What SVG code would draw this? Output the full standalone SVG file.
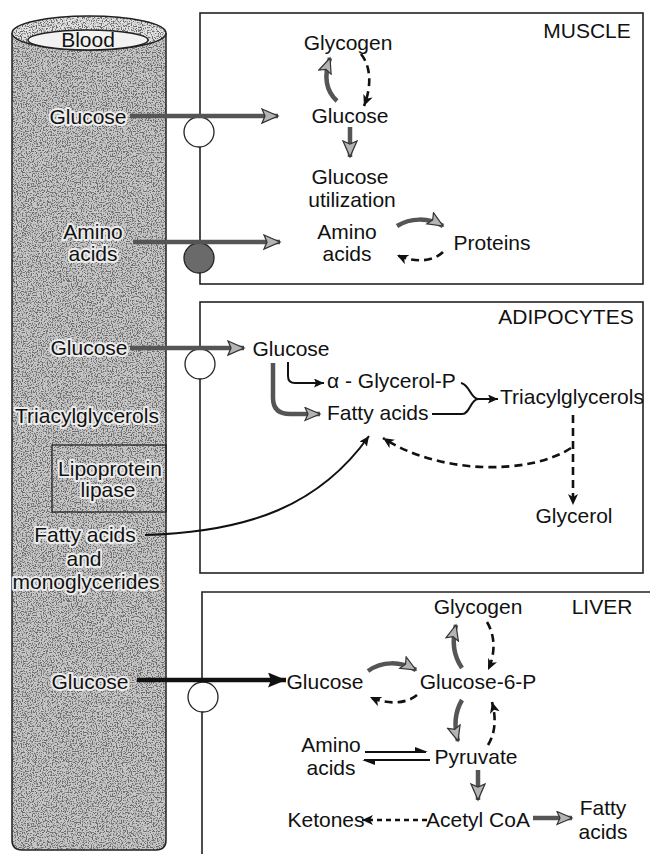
<svg xmlns="http://www.w3.org/2000/svg" width="650" height="854" viewBox="0 0 650 854">
<defs>
<style>
text{font-family:"Liberation Sans",Arial,sans-serif;font-size:21px;fill:#111}
.c{text-anchor:middle}
.h{stroke:#ececec;stroke-width:4;paint-order:stroke;stroke-linejoin:round}
.box{fill:#fff;stroke:#222;stroke-width:1.6}
.mem{fill:#fff;stroke:#222;stroke-width:1.3}
.g{fill:none;stroke:#555;stroke-width:4.5}
.d{fill:none;stroke:#111;stroke-width:2.6;stroke-dasharray:8 5}
.t{fill:none;stroke:#111;stroke-width:2}
.bk{fill:none;stroke:#111;stroke-width:4.5}
</style>
<filter id="spk" x="0" y="0" width="1" height="1">
<feTurbulence type="fractalNoise" baseFrequency="0.8" numOctaves="2" seed="7" result="n"/>
<feColorMatrix in="n" type="matrix" values="0 0 0 0 0.15  0 0 0 0 0.15  0 0 0 0 0.15  0 0 0 -6 3.2" result="d"/>
<feComposite in="d" in2="SourceGraphic" operator="in" result="dd"/>
<feMerge><feMergeNode in="SourceGraphic"/><feMergeNode in="dd"/></feMerge>
</filter>
<marker id="mg" markerUnits="userSpaceOnUse" markerWidth="20" markerHeight="18" refX="17" refY="8" orient="auto"><path d="M1,1 L17,8 L1,15 L4,8 Z" fill="#b4b4b4" stroke="#333" stroke-width="1.3"/></marker>
<marker id="mgs" markerUnits="userSpaceOnUse" markerWidth="18" markerHeight="16" refX="16" refY="7.5" orient="auto"><path d="M1,1 L16,7.5 L1,14 L4,7.5 Z" fill="#b4b4b4" stroke="#333" stroke-width="1.2"/></marker>
<marker id="mb" markerUnits="userSpaceOnUse" markerWidth="12" markerHeight="11" refX="11" refY="5" orient="auto"><path d="M0,0 L11,5 L0,10 L3,5 Z" fill="#111"/></marker>
<marker id="mt" markerUnits="userSpaceOnUse" markerWidth="11" markerHeight="10" refX="10" refY="4.5" orient="auto"><path d="M0,0 L10,4.5 L0,9 L2,4.5 Z" fill="#111"/></marker>
<marker id="mbb" markerUnits="userSpaceOnUse" markerWidth="20" markerHeight="16" refX="18" refY="7.5" orient="auto"><path d="M0,0 L18,7.5 L0,15 L3,7.5 Z" fill="#111"/></marker>
</defs>
<rect width="650" height="854" fill="#fff"/>

<g id="blood">
<path d="M12,33 V840 Q12,850 22,850 H156 Q166,850 166,840 V33 Z" fill="#c8c8c8" filter="url(#spk)"/>
<path d="M12,33 V840 Q12,850 22,850 H156 Q166,850 166,840 V33" fill="none" stroke="#222" stroke-width="1.5"/>
<ellipse cx="89" cy="33" rx="77" ry="17" fill="#e2e2e2" filter="url(#spk)"/>
<ellipse cx="89" cy="33" rx="77" ry="17" fill="none" stroke="#222" stroke-width="1.5"/>
<ellipse cx="88" cy="40" rx="60" ry="10" fill="#f2f2f2" stroke="#222" stroke-width="1.5"/>
<text class="c" x="88" y="47">Blood</text>
<text class="c h" x="88" y="124">Glucose</text>
<text class="c h" x="93" y="239">Amino</text>
<text class="c h" x="93" y="261">acids</text>
<text class="c h" x="89" y="355">Glucose</text>
<text class="c h" x="87" y="423">Triacylglycerols</text>
<rect x="52" y="445" width="114" height="67" fill="none" stroke="#222" stroke-width="1.3"/>
<text class="c h" x="110" y="476">Lipoprotein</text>
<text class="c h" x="108" y="497">lipase</text>
<text class="c h" x="85" y="542">Fatty acids</text>
<text class="c h" x="84" y="566">and</text>
<text class="c h" x="86" y="589">monoglycerides</text>
<text class="c h" x="90" y="689">Glucose</text>
</g>

<g id="muscle">
<rect class="box" x="200" y="13" width="443" height="271"/>
<circle class="mem" cx="199" cy="132" r="15"/>
<circle cx="199" cy="258" r="15" fill="#6a6a6a" stroke="#222" stroke-width="1.3"/>
<text class="c" x="587" y="38">MUSCLE</text>
<text class="c" x="348" y="50">Glycogen</text>
<text class="c" x="350" y="123">Glucose</text>
<text class="c" x="350" y="184">Glucose</text>
<text class="c" x="352" y="207">utilization</text>
<text class="c" x="347" y="239">Amino</text>
<text class="c" x="347" y="261">acids</text>
<text class="c" x="492" y="250">Proteins</text>
</g>

<g id="adipocytes">
<rect class="box" x="200" y="302" width="443" height="271"/>
<circle class="mem" cx="200" cy="364" r="15"/>
<text class="c" x="566" y="324">ADIPOCYTES</text>
<text class="c" x="291" y="356">Glucose</text>
<text x="327" y="388">α - Glycerol-P</text>
<text x="327" y="420">Fatty acids</text>
<text x="500" y="404">Triacylglycerols</text>
<text class="c" x="574" y="523">Glycerol</text>
</g>

<g id="liver">
<path d="M650,592 H202 V854" fill="none" stroke="#222" stroke-width="1.6"/>
<circle class="mem" cx="203" cy="697" r="15"/>
<text class="c" x="602" y="614">LIVER</text>
<text class="c" x="478" y="614">Glycogen</text>
<text class="c" x="325" y="689">Glucose</text>
<text class="c" x="478" y="689">Glucose-6-P</text>
<text class="c" x="331" y="752">Amino</text>
<text class="c" x="331" y="775">acids</text>
<text class="c" x="476" y="764">Pyruvate</text>
<text class="c" x="326" y="827">Ketones</text>
<text class="c" x="478" y="827">Acetyl CoA</text>
<text class="c" x="603" y="815">Fatty</text>
<text class="c" x="603" y="839">acids</text>
</g>

<g id="connectors">
<path class="g" d="M130,116 H278" marker-end="url(#mg)"/>
<path class="g" d="M133,242 H280" marker-end="url(#mg)"/>
<path class="g" d="M337,101 C325,90 324,75 330,58" marker-end="url(#mgs)"/>
<path class="d" d="M361,54 C372,68 371,88 364,106" marker-end="url(#mb)"/>
<path class="g" d="M350,127 V157" marker-end="url(#mg)"/>
<path class="g" d="M397,226 C410,218 428,217 443,226" marker-end="url(#mgs)"/>
<path class="d" d="M443,252 C432,263 412,262 397,255" marker-end="url(#mb)"/>

<path class="g" d="M130,348 H244" marker-end="url(#mg)"/>
<path class="t" d="M288,362 V376 Q288,383 295,383 H324" marker-end="url(#mt)"/>
<path class="g" d="M273,363 V398 Q273,414 290,414 H320" marker-end="url(#mgs)"/>
<path class="t" d="M461,383 C470,385 470,398 478,399"/>
<path class="t" d="M432,414 H462 C470,414 470,400 478,399 H498" marker-end="url(#mt)"/>
<path class="d" d="M573,415 V505" marker-end="url(#mb)"/>
<path class="d" d="M571,448 C530,475 440,475 383,438" marker-end="url(#mb)"/>
<path class="t" d="M145,535 C250,532 320,505 369,436" stroke-width="2.4" marker-end="url(#mt)"/>

<path class="bk" d="M137,680 H286" marker-end="url(#mbb)"/>
<path class="g" d="M368,671 C382,661 400,661 416,670" marker-end="url(#mgs)"/>
<path class="d" d="M417,695 C405,705 385,704 370,697" marker-end="url(#mb)"/>
<path class="g" d="M462,668 C453,655 452,640 456,625" marker-end="url(#mgs)"/>
<path class="d" d="M487,622 C496,637 495,655 488,670" marker-end="url(#mb)"/>
<path class="g" d="M462,700 C455,712 454,727 458,741" marker-end="url(#mgs)"/>
<path class="d" d="M488,745 C496,732 496,717 492,702" marker-end="url(#mb)"/>
<path class="t" d="M365,752 H426" stroke-width="1.6"/>
<polygon points="428,752 415,747 415,752" fill="#111"/>
<path class="t" d="M430,760 H364" stroke-width="1.6"/>
<polygon points="362,760 375,765 375,760" fill="#111"/>
<path class="g" d="M478,770 V800" marker-end="url(#mg)"/>
<path class="d" d="M427,820 H362" style="stroke-dasharray:5 4" marker-end="url(#mb)"/>
<path class="g" d="M533,818 H572" marker-end="url(#mgs)"/>
</g>
</svg>
